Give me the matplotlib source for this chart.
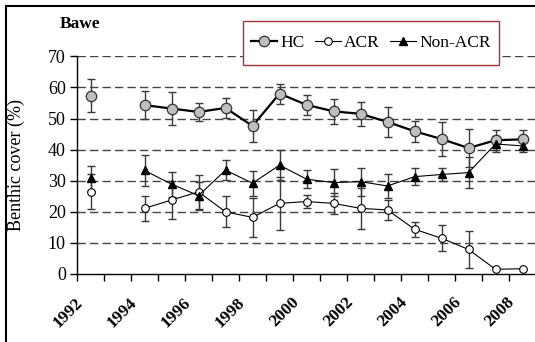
import numpy as np
import matplotlib
matplotlib.use("Agg")
import matplotlib.pyplot as plt
from matplotlib.lines import Line2D
from matplotlib.patches import Rectangle
from matplotlib.transforms import ScaledTranslation

plt.rcParams['font.family'] = ['Liberation Serif', 'DejaVu Serif']

# %% data
years = list(range(1992, 2009))
nan = np.nan
hc = [57.3, nan, 54.3, 53.2, 52.1, 53.4, 47.6, 58.0, 54.4, 52.3, 51.5, 48.9, 45.9, 43.4, 40.5, 43.0, 43.3]
hc_err = [5.3, nan, 4.5, 5.2, 2.8, 3.2, 5.1, 3.2, 3.3, 4.0, 3.9, 4.7, 3.4, 5.5, 6.0, 3.2, 3.0]
acr = [26.5, nan, 21.1, 23.8, 26.4, 20.0, 18.2, 22.7, 23.3, 22.7, 21.1, 20.6, 14.4, 11.5, 7.9, 1.5, 1.7]
acr_err = [5.7, nan, 4.0, 6.2, 5.5, 5.0, 6.2, 8.5, 2.0, 3.3, 6.6, 3.3, 2.4, 4.2, 5.9, nan, nan]
nonacr = [30.8, nan, 33.3, 28.9, 25.2, 33.4, 29.2, 35.0, 30.5, 29.4, 29.7, 28.3, 31.3, 32.0, 32.6, 41.8, 41.2]
nonacr_err = [4.0, nan, 5.0, 4.0, 4.5, 3.2, 4.0, 4.8, 3.0, 4.4, 4.5, 3.8, 2.7, 2.0, 5.0, 2.5, 2.0]
label_years = list(range(1992, 2009, 2))

# %% figure
W, H = 535, 342
fig = plt.figure(figsize=(W / 100, H / 100), dpi=100)
ax = fig.add_axes([77 / W, (H - 274) / H, 459 / W, 217.7 / H])

err_kw = dict(fmt='none', ecolor='#3a3a3a', elinewidth=1, capsize=3, capthick=1)
ax.errorbar(years, hc, yerr=hc_err, zorder=2, **err_kw)
ax.errorbar(years, acr, yerr=acr_err, zorder=2, **err_kw)
ax.errorbar(years, nonacr, yerr=nonacr_err, zorder=2, **err_kw)

ax.plot(years, hc, '-o', color='black', lw=1.6, ms=7.5, mfc='#bfbfbf', mec='#333333',
        mew=0.9, label='HC', zorder=3)
ax.plot(years, acr, '-o', color='black', lw=0.8, ms=5.5, mfc='white', mec='black',
        mew=0.8, label='ACR', zorder=4)
ax.plot(years, nonacr, '-^', color='black', lw=0.8, ms=6, mfc='black', mec='black',
        label='Non-ACR', zorder=5)

ax.set_xlim(1991.5, 2008.5)
ax.set_ylim(0, 70)
ax.set_yticks(range(0, 71, 10))
for v in range(10, 71, 10):
    ax.axhline(v, color='#444444', lw=1, ls=(0, (6, 3)), zorder=1)

# tick marks sit between the years, labels on every second year
ax.set_xticks(np.arange(1991.5, 2009, 1))
ax.set_xticklabels([])
ax.tick_params(axis='x', length=5, direction='out', width=1)
ax.tick_params(axis='y', length=5, direction='out', width=1, labelsize=13, pad=3)
shift = ax.get_xaxis_transform() + ScaledTranslation(-10 / 100, -26 / 100, fig.dpi_scale_trans)
for y in label_years:
    ax.text(y, 0, str(y), transform=shift, rotation=45, ha='right', va='center',
            rotation_mode='anchor', fontweight='bold', fontsize=12.5)

for s in ['top', 'right']:
    ax.spines[s].set_visible(False)
for s in ['left', 'bottom']:
    ax.spines[s].set_linewidth(1)

ax.set_ylabel('Benthic cover (%)', fontsize=13)
ax.yaxis.set_label_coords(-0.113, 0.5)

fig.text(60 / W, 1 - 24 / H, 'Bawe', fontsize=12.5, fontweight='bold', ha='left', va='center')

# legend box drawn by hand: wide vertical padding, tight horizontal padding
fig.add_artist(Rectangle((243 / W, 1 - 65 / H), 256 / W, 44 / H, transform=fig.transFigure,
                         facecolor='white', edgecolor='#a83232', lw=1, zorder=4))
leg = fig.legend(loc='center', bbox_to_anchor=(371 / W, 1 - 43 / H), ncol=3, fontsize=12.5,
                 frameon=False, handlelength=1.5, handletextpad=0.2,
                 columnspacing=0.6, borderpad=0.2)
leg.set_zorder(5)

# outer frame of the original picture
fig.add_artist(Line2D([6 / W, 6 / W], [0, 1 - 6 / H], color='black', lw=1.5))
fig.add_artist(Line2D([6 / W, 1], [1 - 6 / H, 1 - 6 / H], color='black', lw=1.5))

fig.savefig('out.png', dpi=100)
